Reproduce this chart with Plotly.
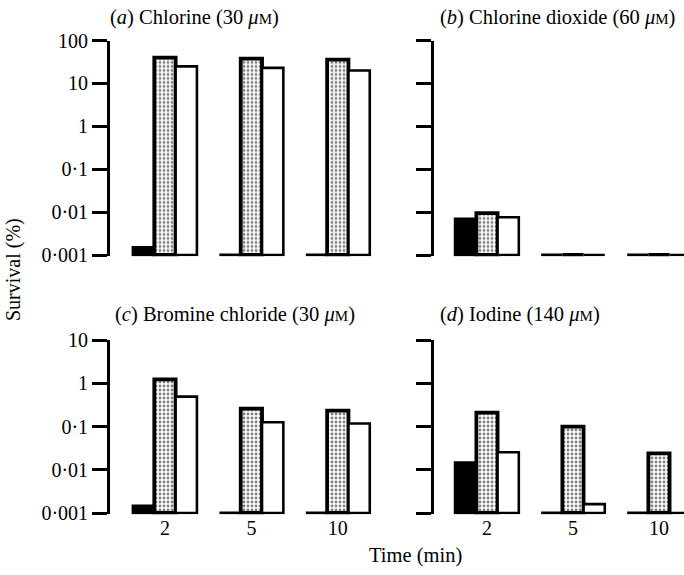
import plotly.graph_objects as go

# ---- data (survival %; 0.001 = detection floor) ----
times = ["2", "5", "10"]
x_pos = [0, 1, 2]
y_ticks_top = [0.001, 0.01, 0.1, 1, 10, 100]
y_ticktext_top = ["0·001", "0·01", "0·1", "1", "10", "100"]
y_ticks_bot = [0.001, 0.01, 0.1, 1, 10]
y_ticktext_bot = ["0·001", "0·01", "0·1", "1", "10"]
floor = 0.001

a_black = [0.0015, 0.001, 0.001]
a_dotted = [40, 38, 36]
a_white = [25, 23, 20]

b_black = [0.0069, 0.001, 0.001]
b_dotted = [0.0095, 0.001, 0.001]
b_white = [0.0076, 0.001, 0.001]

c_black = [0.00145, 0.001, 0.001]
c_dotted = [1.23, 0.26, 0.232]
c_white = [0.49, 0.125, 0.117]

d_black = [0.0146, 0.001, 0.001]
d_dotted = [0.21, 0.099, 0.024]
d_white = [0.0253, 0.0016, 0.001]

SC = "<span style='font-size:15px'>M</span>"
titles = [
    "(<i>a</i>) Chlorine (30 <i>μ</i>" + SC + ")",
    "(<i>b</i>) Chlorine dioxide (60 <i>μ</i>" + SC + ")",
    "(<i>c</i>) Bromine chloride (30 <i>μ</i>" + SC + ")",
    "(<i>d</i>) Iodine (140 <i>μ</i>" + SC + ")",
]

FONT = "Liberation Serif"
W, H = 684, 575
PAD = 0.03  # decades of log range below the 0.001 floor

fig = go.Figure()

panels = [
    ("x", "y", a_black, a_dotted, a_white),
    ("x2", "y2", b_black, b_dotted, b_white),
    ("x3", "y3", c_black, c_dotted, c_white),
    ("x4", "y4", d_black, d_dotted, d_white),
]

for xa, ya, blk, dot, wht in panels:
    fig.add_trace(go.Bar(
        x=x_pos, y=[v - floor for v in blk], base=[floor] * 3,
        xaxis=xa, yaxis=ya, offsetgroup="1",
        marker=dict(color="black", line=dict(color="black", width=2.8)),
        cliponaxis=True, showlegend=False))
    fig.add_trace(go.Bar(
        x=x_pos, y=[v - floor for v in dot], base=[floor] * 3,
        xaxis=xa, yaxis=ya, offsetgroup="2",
        marker=dict(color="white", line=dict(color="black", width=3.8),
                    pattern=dict(shape=".", fgcolor="black", bgcolor="white",
                                 size=4, solidity=0.4)),
        cliponaxis=True, showlegend=False))
    fig.add_trace(go.Bar(
        x=x_pos, y=[v - floor for v in wht], base=[floor] * 3,
        xaxis=xa, yaxis=ya, offsetgroup="3",
        marker=dict(color="white", line=dict(color="black", width=2.6)),
        cliponaxis=True, showlegend=False))

DEC = 43.0  # px per decade
xdom_left = [110 / W, 381 / W]
xdom_right = [434 / W, 1.0]
ydom_top = [1 - (255 + PAD * DEC) / H, 1 - 40.5 / H]
ydom_bot = [1 - (513 + PAD * 43.25) / H, 1 - 340 / H]
xr_left = [-0.636, 2.5]
xr_right = [-0.616, 2.291]

tickfont = dict(family=FONT, size=20, color="black")


def xaxis(dom, rng, anchor, labels):
    return dict(domain=dom, range=rng, anchor=anchor, showline=False,
                showgrid=False, zeroline=False, ticks="", automargin=False,
                tickvals=x_pos, ticktext=times, showticklabels=labels,
                tickfont=tickfont)


def yaxis(dom, rng, anchor, tv, tt, labels):
    return dict(domain=dom, type="log", range=rng, anchor=anchor,
                showline=True, linecolor="black", linewidth=2.8,
                ticks="outside", ticklen=15, tickwidth=2.8, tickcolor="black",
                showgrid=False, zeroline=False, tickvals=tv, ticktext=tt,
                showticklabels=labels, tickfont=tickfont, automargin=False)


annotations = [
    dict(text=titles[0], x=108 / W, y=1 - 17 / H),
    dict(text=titles[1], x=438 / W, y=1 - 17 / H),
    dict(text=titles[2], x=113 / W, y=1 - 315 / H),
    dict(text=titles[3], x=438 / W, y=1 - 315 / H),
]
for a in annotations:
    a.update(xref="paper", yref="paper", xanchor="left", yanchor="middle",
             showarrow=False, font=dict(family=FONT, size=20.5, color="black"))

annotations.append(dict(text="Survival (%)", x=13 / W, y=1 - 270 / H,
                        xref="paper", yref="paper", textangle=-90,
                        xanchor="center", yanchor="middle", showarrow=False,
                        font=dict(family=FONT, size=20, color="black")))
annotations.append(dict(text="Time (min)", x=415 / W, y=1 - 555 / H,
                        xref="paper", yref="paper",
                        xanchor="center", yanchor="middle", showarrow=False,
                        font=dict(family=FONT, size=20.5, color="black")))

fig.update_layout(
    width=W, height=H,
    margin=dict(l=0, r=0, t=0, b=0, autoexpand=False),
    paper_bgcolor="white", plot_bgcolor="white",
    barmode="group", bargap=0.26, bargroupgap=0,
    xaxis=xaxis(xdom_left, xr_left, "y", False),
    yaxis=yaxis(ydom_top, [-3 - PAD, 2], "x", y_ticks_top, y_ticktext_top, True),
    xaxis2=xaxis(xdom_right, xr_right, "y2", False),
    yaxis2=yaxis(ydom_top, [-3 - PAD, 2], "x2", y_ticks_top, y_ticktext_top, False),
    xaxis3=xaxis(xdom_left, xr_left, "y3", True),
    yaxis3=yaxis(ydom_bot, [-3 - PAD, 1], "x3", y_ticks_bot, y_ticktext_bot, True),
    xaxis4=xaxis(xdom_right, xr_right, "y4", True),
    yaxis4=yaxis(ydom_bot, [-3 - PAD, 1], "x4", y_ticks_bot, y_ticktext_bot, False),
    annotations=annotations,
    font=dict(family=FONT, color="black"),
)

fig.write_html(
    "out.html",
    config={"displayModeBar": False},
    post_script="document.body.style.margin='0';document.body.style.overflow='hidden';",
)
